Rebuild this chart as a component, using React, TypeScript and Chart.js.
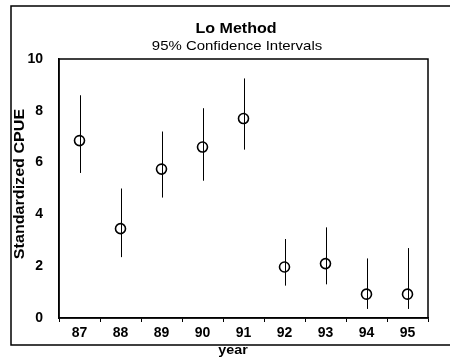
import React, { useEffect, useRef } from "react";
import { Chart, registerables } from "chart.js";

Chart.register(...registerables);

const years = ["87", "88", "89", "90", "91", "92", "93", "94", "95"];
const cpue = [6.85, 3.45, 5.75, 6.6, 7.7, 1.97, 2.1, 0.92, 0.92];
const upper = [8.6, 5.0, 7.2, 8.1, 9.25, 3.05, 3.5, 2.3, 2.7];
const lower = [5.6, 2.35, 4.65, 5.3, 6.5, 1.25, 1.3, 0.35, 0.35];
const yTicks = [0, 2, 4, 6, 8, 10];

const FONT = "'Liberation Sans', Arial, sans-serif";

function stretchText(ctx: any, text: string, x: number, y: number, font: string, sx: number, rot = 0) {
  ctx.save();
  ctx.translate(x, y);
  if (rot) ctx.rotate(rot);
  ctx.scale(sx, 1);
  ctx.font = font;
  ctx.fillText(text, 0, 0);
  ctx.restore();
}

const decorPlugin = {
  id: "decor",
  beforeDatasetsDraw(chart: any) {
    const { ctx, chartArea, scales } = chart;
    const xs = scales.x;
    const ys = scales.y;
    ctx.save();
    ctx.strokeStyle = "#000";
    ctx.lineWidth = 1;
    // error bars
    for (let i = 0; i < years.length; i++) {
      const x = Math.round(xs.getPixelForValue(i)) + 0.5;
      ctx.beginPath();
      ctx.moveTo(x, ys.getPixelForValue(upper[i]));
      ctx.lineTo(x, ys.getPixelForValue(lower[i]));
      ctx.stroke();
    }
    // plot box
    ctx.lineWidth = 1.5;
    ctx.strokeRect(chartArea.left, chartArea.top, chartArea.right - chartArea.left, chartArea.bottom - chartArea.top);
    // outer frame
    ctx.beginPath();
    ctx.moveTo(450, 6);
    ctx.lineTo(11, 6);
    ctx.lineTo(11, 345);
    ctx.lineTo(450, 345);
    ctx.stroke();
    // titles
    ctx.fillStyle = "#000";
    ctx.textAlign = "center";
    ctx.textBaseline = "middle";
    stretchText(ctx, "Lo Method", 236, 29, `bold 15px ${FONT}`, 1.07);
    stretchText(ctx, "95% Confidence Intervals", 237, 46, `13px ${FONT}`, 1.15);
    stretchText(ctx, "year", 233, 350, `bold 13px ${FONT}`, 1.1);
    stretchText(ctx, "Standardized CPUE", 20, 184, `bold 14px ${FONT}`, 1.15, -Math.PI / 2);
    ctx.restore();
  },
};

export default function App() {
  const ref = useRef<HTMLCanvasElement>(null);
  useEffect(() => {
    const chart = new Chart(ref.current!, {
      type: "line",
      data: {
        labels: years,
        datasets: [
          {
            data: cpue,
            showLine: false,
            pointStyle: "circle",
            pointRadius: 5,
            pointBorderWidth: 1.6,
            pointBorderColor: "#000",
            pointBackgroundColor: "rgba(0,0,0,0)",
          },
        ],
      },
      options: {
        animation: false,
        responsive: false,
        layout: { padding: { top: 59, right: 22, left: 0, bottom: 0 } },
        plugins: { legend: { display: false }, tooltip: { enabled: false }, title: { display: false } },
        scales: {
          x: {
            type: "category",
            offset: true,
            grid: { display: true, drawOnChartArea: false, offset: true, tickLength: 4, color: "#000" },
            border: { display: true, color: "#000", width: 1.5 },
            ticks: { color: "#000", font: { family: FONT, size: 14, weight: "bold" }, padding: 3 },
            afterFit: (s: any) => { s.height = 42; },
          },
          y: {
            min: 0,
            max: 10,
            afterBuildTicks: (s: any) => { s.ticks = yTicks.map((v) => ({ value: v })); },
            grid: { display: false },
            border: { display: true, color: "#000", width: 1.5 },
            ticks: { color: "#000", font: { family: FONT, size: 14, weight: "bold" }, padding: 8 },
            afterFit: (s: any) => { s.width = 59; },
          },
        },
      },
      plugins: [decorPlugin],
    });
    return () => chart.destroy();
  }, []);
  return (
    <div style={{ position: "fixed", left: 0, top: 0, width: 450, height: 360, background: "#fff" }}>
      <canvas ref={ref} width={450} height={360} />
    </div>
  );
}
